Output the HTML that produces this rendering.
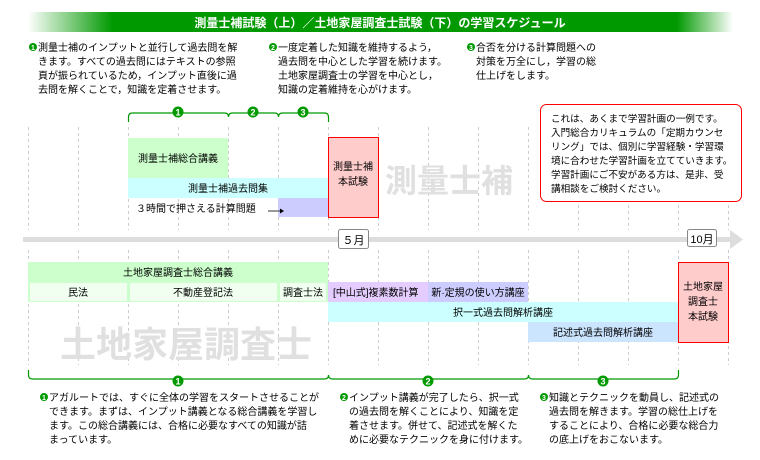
<!DOCTYPE html>
<html><head><meta charset="utf-8"><style>
body{margin:0;background:#fff}
svg{display:block}
text{font-family:"Liberation Sans","Noto Sans CJK JP",sans-serif;font-size:10px;fill:#000}
.c{text-anchor:middle}
.w{fill:#fff;font-size:9px;font-weight:bold;text-anchor:middle}
.n{font-size:9.6px}
</style></head><body>
<svg width="760" height="460" viewBox="0 0 760 460" xmlns="http://www.w3.org/2000/svg">
<defs>
<linearGradient id="g" x1="0" x2="1" y1="0" y2="0">
<stop offset="0" stop-color="#fff"/><stop offset="0.12" stop-color="#009900"/><stop offset="0.92" stop-color="#009900"/><stop offset="1" stop-color="#fff"/>
</linearGradient>
</defs>
<rect x="28" y="12" width="705" height="20" fill="url(#g)"/>
<text x="380" y="27" class="c" style="fill:#fff;font-size:12px;font-weight:bold">測量士補試験（上）／土地家屋調査士試験（下）の学習スケジュール</text>

<g>
<circle cx="33" cy="47" r="4" fill="#009900"/><text x="33" y="50" class="w" style="font-size:7px">1</text>
<text x="38" y="51">測量士補のインプットと並行して過去問を解</text>
<text x="38" y="65">きます。すべての過去問にはテキストの参照</text>
<text x="38" y="79">頁が振られているため，インプット直後に過</text>
<text x="38" y="93">去問を解くことで，知識を定着させます。</text>
<circle cx="273" cy="47" r="4" fill="#009900"/><text x="273" y="50" class="w" style="font-size:7px">2</text>
<text x="278" y="51">一度定着した知識を維持するよう，</text>
<text x="278" y="65">過去問を中心とした学習を続けます。</text>
<text x="278" y="79">土地家屋調査士の学習を中心とし，</text>
<text x="278" y="93">知識の定着維持を心がけます。</text>
<circle cx="471" cy="47" r="4" fill="#009900"/><text x="471" y="50" class="w" style="font-size:7px">3</text>
<text x="476" y="51">合否を分ける計算問題への</text>
<text x="476" y="65">対策を万全にし，学習の総</text>
<text x="476" y="79">仕上げをします。</text>
</g>

<g stroke="#ccc" stroke-dasharray="3,3" stroke-width="1">
<path d="M28.5 127V230M78.5 127V230M128.5 127V230M178.5 127V230M228.5 127V230M278.5 127V230M328.5 127V230M378.5 127V230M428.5 127V230M478.5 127V230M528.5 127V230M578.5 127V230M628.5 127V230M678.5 127V230M728.5 127V230"/>
<path d="M28.5 250V365M78.5 250V365M128.5 250V365M178.5 250V365M228.5 250V365M278.5 250V365M328.5 250V365M378.5 250V365M428.5 250V365M478.5 250V365M528.5 250V365M578.5 250V365M628.5 250V365M678.5 250V365M728.5 250V365"/>
</g>

<path d="M128.5 122v-5q0-4 4-4h92q4 0 4 4q0-4 4-4h42q4 0 4 4q0-4 4-4h42q4 0 4 4v5" fill="none" stroke="#009900" stroke-width="1.2"/>
<g>
<circle cx="178" cy="112" r="5.5" fill="#009900"/><text x="178" y="115.5" class="w">1</text>
<circle cx="253" cy="112" r="5.5" fill="#009900"/><text x="253" y="115.5" class="w">2</text>
<circle cx="303" cy="112" r="5.5" fill="#009900"/><text x="303" y="115.5" class="w">3</text>
</g>

<text x="385" y="192" style="font-size:32px;font-weight:bold;fill:#e0e0e0">測量士補</text>
<rect x="128" y="138" width="100" height="40" fill="#ccffcc"/>
<text x="178" y="162" class="c">測量士補総合講義</text>
<rect x="128" y="178" width="200" height="20" fill="#ccffff"/>
<text x="228" y="192" class="c">測量士補過去問集</text>
<rect x="278" y="198" width="50" height="19" fill="#ccccff"/>
<text x="136" y="212">３時間で押さえる計算問題</text>
<path d="M268 211h12" stroke="#333" stroke-width="1"/><path d="M280 208.5l4 2.5-4 2.5z" fill="#000"/>
<rect x="328.5" y="137.5" width="50" height="80" fill="#ffcccc" stroke="#ff0000"/>
<text x="353" y="170" class="c">測量士補</text>
<text x="353" y="185" class="c">本試験</text>

<rect x="540.5" y="104.5" width="201" height="97" rx="6" fill="#fff" stroke="#ff0000"/>
<text x="551" y="122" class="n">これは、あくまで学習計画の一例です。</text>
<text x="551" y="136" class="n">入門総合カリキュラムの「定期カウンセ</text>
<text x="551" y="150" class="n">リング」では、個別に学習経験・学習環</text>
<text x="551" y="164" class="n">境に合わせた学習計画を立てていきます。</text>
<text x="551" y="178" class="n">学習計画にご不安がある方は、是非、受</text>
<text x="551" y="192" class="n">講相談をご検討ください。</text>

<rect x="23" y="237" width="710" height="5" fill="#ddd"/>
<path d="M730 230l13 9.5-13 9.5z" fill="#ddd"/>
<rect x="338.5" y="229.5" width="30" height="19" rx="2" fill="#fff" stroke="#888"/>
<text x="353.5" y="244" class="c" style="font-size:11px">５月</text>
<rect x="687.5" y="229.5" width="29" height="17" rx="2" fill="#fff" stroke="#888"/>
<text x="702" y="243" class="c" style="font-size:11px">10月</text>

<text x="60" y="357" style="font-size:36px;font-weight:bold;fill:#e0e0e0">土地家屋調査士</text>
<rect x="28" y="262" width="300" height="20" fill="#ccffcc"/>
<text x="178" y="276" class="c">土地家屋調査士総合講義</text>
<rect x="28" y="282" width="300" height="20" fill="#ccffcc"/>
<rect x="30" y="283" width="97" height="18" fill="#f0fff0"/>
<rect x="130" y="283" width="147" height="18" fill="#f0fff0"/>
<rect x="280" y="283" width="46" height="18" fill="#f0fff0"/>
<text x="78" y="296" class="c">民法</text>
<text x="203" y="296" class="c">不動産登記法</text>
<text x="303" y="296" class="c">調査士法</text>
<rect x="328" y="282" width="100" height="20" fill="#e5ccff"/>
<text x="333" y="296">[中山式]複素数計算</text>
<rect x="428" y="282" width="100" height="20" fill="#ccccff"/>
<text x="478" y="296" class="c">新·定規の使い方講座</text>
<rect x="328" y="302" width="350" height="20" fill="#ccffff"/>
<text x="503" y="316" class="c">択一式過去問解析講座</text>
<rect x="528" y="322" width="150" height="20" fill="#cce5ff"/>
<text x="603" y="336" class="c">記述式過去問解析講座</text>
<rect x="678.5" y="262.5" width="50" height="80" fill="#ffcccc" stroke="#ff0000"/>
<text x="703" y="290" class="c">土地家屋</text>
<text x="703" y="305" class="c">調査士</text>
<text x="703" y="320" class="c">本試験</text>

<path d="M28.5 370v5q0 4 4 4h292q4 0 4-4q0 4 4 4h192q4 0 4-4q0 4 4 4h142q4 0 4-4v-5" fill="none" stroke="#009900" stroke-width="1.2"/>
<circle cx="178" cy="381" r="5.5" fill="#009900"/><text x="178" y="384.5" class="w">1</text>
<circle cx="428" cy="381" r="5.5" fill="#009900"/><text x="428" y="384.5" class="w">2</text>
<circle cx="603" cy="381" r="5.5" fill="#009900"/><text x="603" y="384.5" class="w">3</text>

<circle cx="44" cy="397" r="4" fill="#009900"/><text x="44" y="400" class="w" style="font-size:7px">1</text>
<text x="49" y="401">アガルートでは、すぐに全体の学習をスタートさせることが</text>
<text x="49" y="415">できます。まずは、インプット講義となる総合講義を学習し</text>
<text x="49" y="429">ます。この総合講義には、合格に必要なすべての知識が詰</text>
<text x="49" y="443">まっています。</text>
<circle cx="344" cy="397" r="4" fill="#009900"/><text x="344" y="400" class="w" style="font-size:7px">2</text>
<text x="349" y="401">インプット講義が完了したら、択一式</text>
<text x="349" y="415">の過去問を解くことにより、知識を定</text>
<text x="349" y="429">着させます。併せて、記述式を解くた</text>
<text x="349" y="443">めに必要なテクニックを身に付けます。</text>
<circle cx="544" cy="397" r="4" fill="#009900"/><text x="544" y="400" class="w" style="font-size:7px">3</text>
<text x="549" y="401">知識とテクニックを動員し、記述式の</text>
<text x="549" y="415">過去問を解きます。学習の総仕上げを</text>
<text x="549" y="429">することにより、合格に必要な総合力</text>
<text x="549" y="443">の底上げをおこないます。</text>
</svg>
</body></html>
